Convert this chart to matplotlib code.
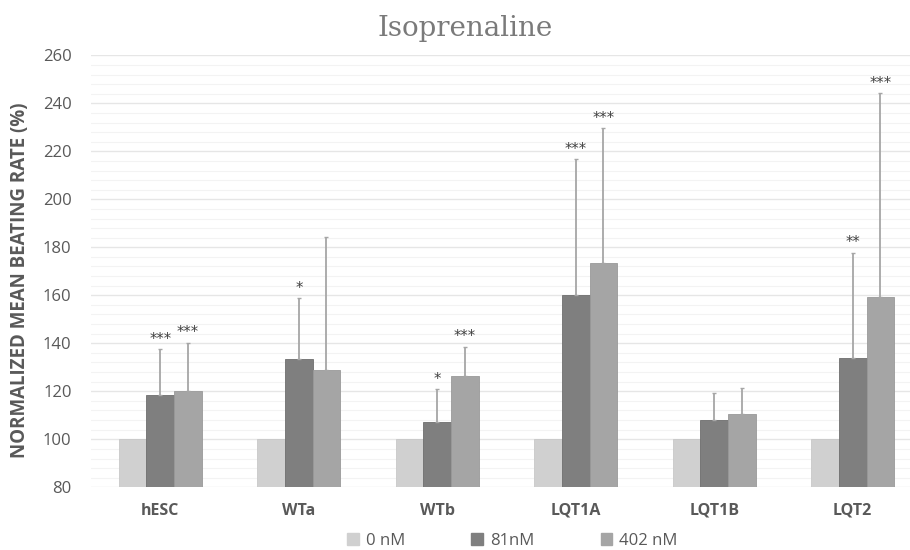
import numpy as np
import matplotlib.pyplot as plt
from matplotlib.patches import Patch
from matplotlib.ticker import MultipleLocator

# values
cell_lines = ['hESC', 'WTa', 'WTb', 'LQT1A', 'LQT1B', 'LQT2']
doses = ['0 nM', '81nM', '402 nM']

rate_0nM = [100, 100, 100, 100, 100, 100]
rate_81nM = [118.6, 133.6, 107.3, 160.0, 108.0, 133.8]
rate_402nM = [120.0, 129.0, 126.5, 173.6, 110.4, 159.4]

err_0nM = [0, 0, 0, 0, 0, 0]
err_81nM = [19.0, 25.2, 13.5, 56.8, 11.4, 44.0]
err_402nM = [20.3, 55.2, 12.0, 56.0, 10.8, 84.8]

stars_0nM = ['', '', '', '', '', '']
stars_81nM = ['***', '*', '*', '***', '', '**']
stars_402nM = ['***', '', '***', '***', '', '***']

colors = ['#d0d0d0', '#7f7f7f', '#a5a5a5']
edges = ['#c8c8c8', '#6f6f6f', '#999999']
txt = '#595959'

fig = plt.figure(figsize=(9.1, 5.5), dpi=100)
ax = fig.add_axes([91 / 910, 1 - 487.3 / 550, (922 - 91) / 910, (487.3 - 55.3) / 550])

x = np.arange(len(cell_lines))
width = 0.2
series = [(rate_0nM, err_0nM, stars_0nM),
          (rate_81nM, err_81nM, stars_81nM),
          (rate_402nM, err_402nM, stars_402nM)]

for i, (vals, errs, stars) in enumerate(series):
    pos = x + (i - 1) * width
    ax.bar(pos, np.array(vals) - 80, width, bottom=80, color=colors[i],
           edgecolor=edges[i], linewidth=0.6, zorder=3)
    has_err = np.array(errs) > 0
    ax.errorbar(pos[has_err], np.array(vals)[has_err],
                yerr=[np.zeros(has_err.sum()), np.array(errs)[has_err]],
                fmt='none', ecolor='#a6a6a6', elinewidth=1.3, capsize=1.5,
                capthick=1, zorder=4)
    for p, v, e, s in zip(pos, vals, errs, stars):
        if s:
            ax.text(p, v + e + 1.0, s, ha='center', va='bottom',
                    fontsize=10.5, color='#404040', zorder=5)

ax.set_xlim(-0.5, 5.5)
ax.set_ylim(80, 260)
ax.yaxis.set_major_locator(MultipleLocator(20))
ax.yaxis.set_minor_locator(MultipleLocator(4))
ax.grid(which='major', axis='y', color='#e6e6e6', linewidth=1, zorder=0)
ax.grid(which='minor', axis='y', color='#f3f3f3', linewidth=0.8, zorder=0)
ax.set_axisbelow(True)
for s in ax.spines.values():
    s.set_visible(False)
ax.tick_params(which='both', length=0)
ax.tick_params(axis='y', pad=14, labelsize=12, labelcolor=txt)
ax.tick_params(axis='x', pad=11, labelsize=11.5, labelcolor=txt)
ax.set_xticks(x)
ax.set_xticklabels(cell_lines, fontweight='bold', family='Open Sans')
for lab in ax.get_yticklabels():
    lab.set_family('Open Sans')

fig.text(0.022, 1 - 280 / 550, 'NORMALIZED MEAN BEATING RATE (%)', rotation=90,
         ha='center', va='center', fontsize=13.5, fontweight='bold',
         color=txt, family='Open Sans')
fig.text(0.511, 1 - 28 / 550, 'Isoprenaline', ha='center', va='center',
         fontsize=20, color='#7a7a7a', family='DejaVu Serif')

handles = [Patch(facecolor=c, edgecolor=c) for c in colors]
fig.legend(handles, doses, loc='center', bbox_to_anchor=(0.563, 1 - 541 / 550),
           ncol=3, frameon=False, handlelength=0.7, handleheight=0.7,
           handletextpad=0.4, columnspacing=4.0,
           prop={'family': 'Open Sans', 'size': 12}, labelcolor=txt)

fig.savefig('out.png', dpi=100)
